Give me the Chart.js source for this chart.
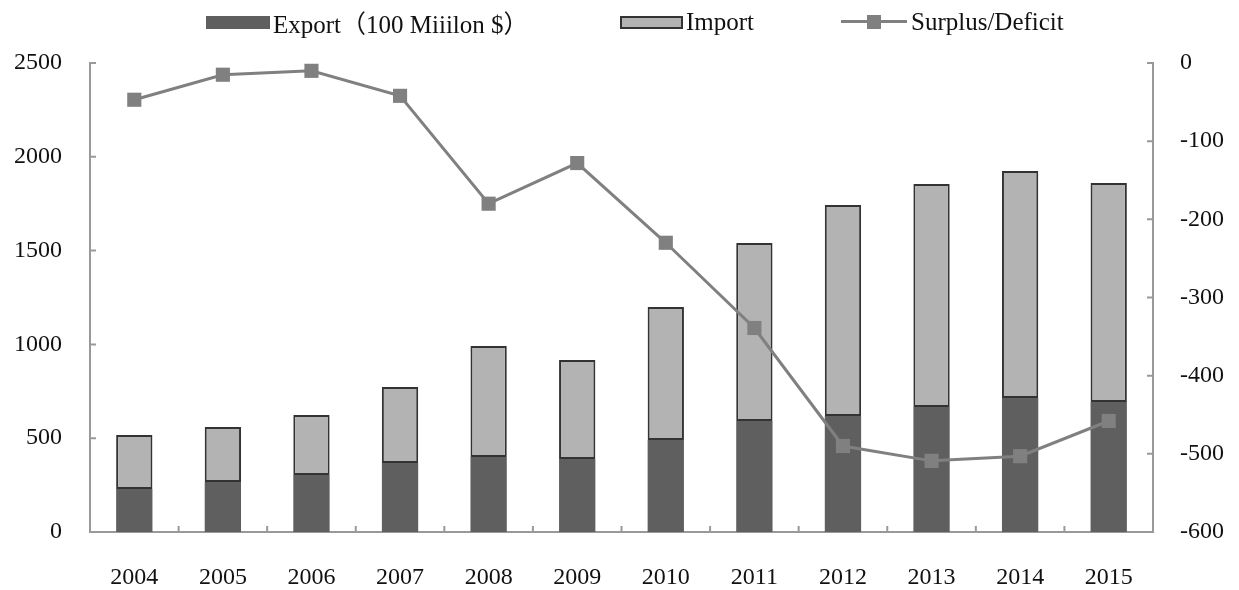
<!DOCTYPE html>
<html>
<head>
<meta charset="utf-8">
<script src="https://cdn.jsdelivr.net/npm/chart.js@4.4.1/dist/chart.umd.min.js"></script>
<style>
    html, body { margin: 0; padding: 0; background: #fff; }
    #wrap { position: relative; width: 1239px; height: 590px; }
    #legend { position: absolute; top: 0; left: 0; width: 1239px; height: 44px;
              font-family: "Liberation Serif", "Noto Sans CJK SC", serif; font-size: 25px; color: #111; }
    .item { position: absolute; top: 8px; display: flex; align-items: center; height: 28px; white-space: nowrap; }
    .box { display: inline-block; height: 13px; margin-right: 3px; box-sizing: border-box; }
    .lineKey { position: relative; display: inline-block; width: 66px; height: 14px; margin-right: 4px; }
    .lineKey:before { content: ''; position: absolute; left: 0; right: 0; top: 5px; height: 3px; background: #808080; }
    .lineKey:after { content: ''; position: absolute; left: 26px; top: 0; width: 14px; height: 14px; background: #808080; }
</style>
</head>
<body>
<div id="wrap">
    <canvas id="tradeChart" width="1239" height="590"></canvas>
    <div id="legend">
        <div class="item" style="left:206px"><span class="box" style="width:64px;background:#5f5f5f"></span>Export（100 Miiilon $）</div>
        <div class="item" style="left:620px"><span class="box" style="width:63px;background:#b3b3b3;border:2px solid #333"></span>Import</div>
        <div class="item" style="left:841px"><span class="lineKey"></span>Surplus/Deficit</div>
    </div>
</div>
<script>
const years = ['2004', '2005', '2006', '2007', '2008', '2009', '2010', '2011', '2012', '2013', '2014', '2015'];
const exportVals = [229, 267, 304, 368, 400, 389, 490, 592, 618, 666, 714, 693];
const importVals = [288, 293, 320, 405, 591, 528, 709, 948, 1125, 1189, 1210, 1167];
const surplusVals = [-47, -15, -10, -42, -180, -128, -230, -339, -490, -509, -503, -458];

const axisColor = '#999999';
const font = { family: '"Liberation Serif", "Times New Roman", serif', size: 24 };

// small tick marks pointing into the plot, like the original
const innerTicks = {
    id: 'innerTicks',
    afterDraw(chart) {
        const ctx = chart.ctx;
        const x = chart.scales.x, y = chart.scales.y, y1 = chart.scales.y1;
        ctx.save();
        ctx.strokeStyle = axisColor;
        ctx.lineWidth = 2;
        ctx.beginPath();
        y.ticks.forEach(t => {
            const py = y.getPixelForValue(t.value);
            ctx.moveTo(x.left, py); ctx.lineTo(x.left + 6, py);
        });
        y1.ticks.forEach(t => {
            const py = y1.getPixelForValue(t.value);
            ctx.moveTo(x.right, py); ctx.lineTo(x.right - 6, py);
        });
        for (let i = 1; i < years.length; i++) {
            const px = (x.getPixelForTick(i - 1) + x.getPixelForTick(i)) / 2;
            ctx.moveTo(px, y.bottom); ctx.lineTo(px, y.bottom - 6);
        }
        ctx.stroke();
        ctx.restore();
    }
};

new Chart(document.getElementById('tradeChart').getContext('2d'), {
    type: 'bar',
    data: {
        labels: years,
        datasets: [{
            type: 'line',
            label: 'Surplus/Deficit',
            data: surplusVals,
            yAxisID: 'y1',
            borderColor: '#808080',
            backgroundColor: '#808080',
            borderWidth: 3,
            pointStyle: 'rect',
            pointRadius: 10,
            pointBorderWidth: 0,
            tension: 0,
            order: 1
        }, {
            label: 'Export（100 Miiilon $）',
            data: exportVals,
            backgroundColor: '#5f5f5f',
            borderWidth: 0,
            barPercentage: 0.41,
            categoryPercentage: 1,
            order: 2
        }, {
            label: 'Import',
            data: importVals,
            backgroundColor: '#b3b3b3',
            borderColor: '#333333',
            borderWidth: 2,
            borderSkipped: false,
            barPercentage: 0.41,
            categoryPercentage: 1,
            order: 3
        }]
    },
    options: {
        responsive: false,
        animation: false,
        layout: { padding: { top: 63, left: 0, right: 0, bottom: 0 } },
        scales: {
            x: {
                stacked: true,
                grid: { display: false, drawTicks: false },
                border: { display: true, color: axisColor, width: 2 },
                ticks: { color: '#111', font: font, padding: 31, maxRotation: 0 },
                afterFit(scale) { scale.height = 58; }
            },
            y: {
                stacked: true,
                position: 'left',
                min: 0,
                max: 2500,
                grid: { display: false, drawTicks: false },
                border: { display: true, color: axisColor, width: 2 },
                ticks: { stepSize: 500, color: '#111', font: font, padding: 28,
                         callback: v => String(v) },
                afterFit(scale) { scale.width = 90; }
            },
            y1: {
                position: 'right',
                min: -600,
                max: 0,
                grid: { display: false, drawTicks: false },
                border: { display: true, color: axisColor, width: 2 },
                ticks: { stepSize: 100, color: '#111', font: font, padding: 27,
                         callback: v => String(v) },
                afterFit(scale) { scale.width = 86; }
            }
        },
        plugins: {
            legend: { display: false },
            tooltip: { enabled: false }
        }
    },
    plugins: [innerTicks]
});
</script>
</body>
</html>
